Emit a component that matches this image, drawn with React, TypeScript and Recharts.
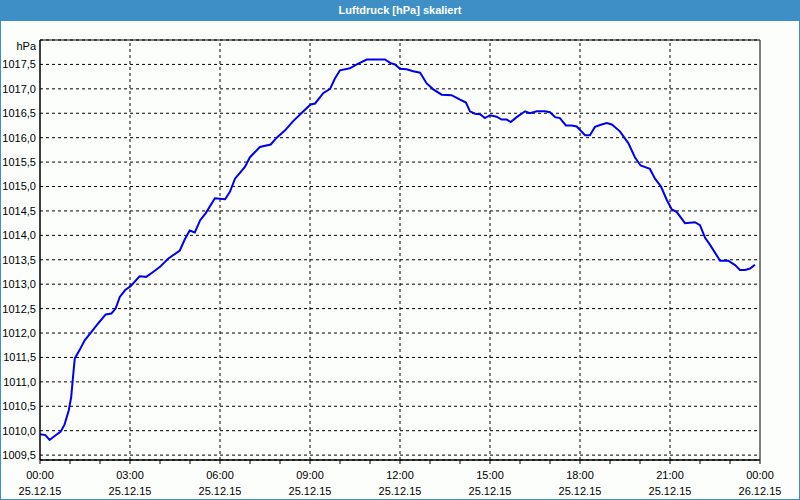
import React from 'react';
import { LineChart, Line, XAxis, YAxis, CartesianGrid, ReferenceLine, ReferenceArea } from 'recharts';

const hours: number[] = [
  0.0, 0.18, 0.32, 0.49, 0.69, 0.82, 0.96, 1.04, 1.1, 1.16, 1.32, 1.49, 1.71, 1.93, 2.19, 2.38, 2.52, 2.66, 2.84, 3.02,
  3.32, 3.54, 3.77, 3.99, 4.27, 4.66, 4.82, 4.99, 5.16, 5.34, 5.52, 5.83, 6.17, 6.33, 6.5, 6.83, 7.0, 7.33, 7.69, 7.89,
  8.17, 8.44, 8.78, 9.02, 9.17, 9.44, 9.67, 9.83, 10.0, 10.33, 10.56, 10.89, 11.5, 11.67, 11.83, 12.0, 12.22, 12.44, 12.67, 12.89,
  13.11, 13.39, 13.72, 14.0, 14.2, 14.33, 14.5, 14.67, 14.83, 15.0, 15.22, 15.39, 15.56, 15.69, 15.89, 16.17, 16.33, 16.56, 16.83, 17.0,
  17.17, 17.33, 17.53, 17.72, 17.89, 18.17, 18.33, 18.5, 18.72, 18.89, 19.06, 19.33, 19.61, 19.83, 20.02, 20.33, 20.5, 20.7, 20.89, 21.06,
  21.22, 21.5, 21.83, 22.0, 22.17, 22.33, 22.67, 22.94, 23.17, 23.33, 23.5, 23.67, 23.83,
];

const pressure: number[] = [
  1009.93, 1009.91, 1009.81, 1009.89, 1009.98, 1010.13, 1010.42, 1010.69, 1011.1, 1011.48, 1011.65, 1011.85, 1012.02, 1012.19, 1012.38, 1012.4, 1012.5, 1012.74, 1012.88, 1012.96,
  1013.16, 1013.15, 1013.25, 1013.35, 1013.52, 1013.69, 1013.91, 1014.1, 1014.06, 1014.31, 1014.45, 1014.76, 1014.74, 1014.89, 1015.16, 1015.4, 1015.6, 1015.81, 1015.86, 1016.0,
  1016.15, 1016.34, 1016.54, 1016.68, 1016.7, 1016.91, 1017.0, 1017.21, 1017.38, 1017.42, 1017.5, 1017.6, 1017.6, 1017.53, 1017.5, 1017.41, 1017.4, 1017.36, 1017.33, 1017.11,
  1016.99, 1016.88, 1016.87, 1016.78, 1016.72, 1016.54, 1016.49, 1016.48, 1016.4, 1016.46, 1016.43, 1016.37, 1016.37, 1016.32, 1016.42, 1016.54, 1016.5, 1016.54, 1016.54, 1016.52,
  1016.42, 1016.4, 1016.25, 1016.25, 1016.23, 1016.05, 1016.05, 1016.22, 1016.27, 1016.3, 1016.27, 1016.13, 1015.89, 1015.6, 1015.43, 1015.36, 1015.16, 1015.0, 1014.73, 1014.53,
  1014.48, 1014.25, 1014.27, 1014.21, 1013.95, 1013.81, 1013.48, 1013.48, 1013.39, 1013.29, 1013.29, 1013.32, 1013.4,
];

const hourTicks: number[] = [0, 1, 2, 3, 4, 5, 6, 7, 8, 9, 10, 11, 12, 13, 14, 15, 16, 17, 18, 19, 20, 21, 22, 23, 24];
const majorHours: number[] = [0, 3, 6, 9, 12, 15, 18, 21, 24];
const timeLabels: string[] = ['00:00', '03:00', '06:00', '09:00', '12:00', '15:00', '18:00', '21:00', '00:00'];
const dateLabels: string[] = ['25.12.15', '25.12.15', '25.12.15', '25.12.15', '25.12.15', '25.12.15', '25.12.15', '25.12.15', '26.12.15'];
const yTicks: number[] = [1009.5, 1010, 1010.5, 1011, 1011.5, 1012, 1012.5, 1013, 1013.5, 1014, 1014.5, 1015, 1015.5, 1016, 1016.5, 1017, 1017.5];
const yDomain: [number, number] = [1009.4, 1018.0];
const title = 'Luftdruck [hPa] skaliert';
const unit = 'hPa';

const data = hours.map((h, i) => ({ h, p: pressure[i] }));

const FONT = '"Liberation Sans", Arial, sans-serif';
const BLUE = '#3d8fc6';

const XTick = (props: any) => {
  const { x, y, payload } = props;
  const idx = majorHours.indexOf(payload.value);
  if (idx < 0) return null;
  return (
    <g>
      <text x={x} y={y + 13} textAnchor="middle" fontSize={11} fontFamily={FONT} fill="#000">{timeLabels[idx]}</text>
      <text x={x} y={y + 29} textAnchor="middle" fontSize={11} fontFamily={FONT} fill="#000">{dateLabels[idx]}</text>
    </g>
  );
};

export default function App() {
  return (
    <div style={{ position: 'absolute', left: 0, top: 0, width: 800, height: 500, background: '#fcfefc', boxSizing: 'border-box', overflow: 'hidden' }}>
      <div style={{ position: 'absolute', left: 0, top: 0, width: 800, height: 500, boxSizing: 'border-box', borderLeft: `1px solid ${BLUE}`, borderRight: `1px solid ${BLUE}`, borderBottom: `1px solid ${BLUE}`, pointerEvents: 'none', zIndex: 2 }} />
      <div style={{ position: 'absolute', left: 0, top: 0, width: 800, height: 21, background: BLUE, color: '#fff', fontFamily: FONT, fontWeight: 'bold', fontSize: 11, lineHeight: '21px', textAlign: 'center', zIndex: 3 }}>{title}</div>
      <div style={{ position: 'absolute', left: 0, top: 39, width: 36, textAlign: 'right', fontFamily: FONT, fontSize: 11, lineHeight: '14px', color: '#000', zIndex: 3 }}>{unit}</div>
      <div style={{ position: 'absolute', left: 0, top: 0 }}>
        <LineChart width={800} height={500} data={data} margin={{ top: 40, right: 40, bottom: 0, left: 0 }}>
          <ReferenceArea x1={0} x2={24} y1={yDomain[0]} y2={yDomain[1]} fill="#ffffff" fillOpacity={0} stroke="#000" strokeWidth={1} ifOverflow="visible" />
          <CartesianGrid vertical={false} stroke="#000" strokeDasharray="3 3" />
          {majorHours.slice(1, -1).map((h) => (
            <ReferenceLine key={h} x={h} stroke="#000" strokeDasharray="3 3" />
          ))}
          <XAxis
            dataKey="h"
            type="number"
            domain={[0, 24]}
            ticks={hourTicks}
            interval={0}
            height={40}
            tickSize={4}
            tickLine={{ stroke: '#000' }}
            axisLine={{ stroke: '#000' }}
            tick={<XTick />}
            allowDataOverflow
          />
          <YAxis
            type="number"
            domain={yDomain}
            ticks={yTicks}
            interval={0}
            width={40}
            tickSize={0}
            tickMargin={4}
            tickLine={false}
            axisLine={{ stroke: '#000' }}
            tick={{ fill: '#000', fontSize: 11, fontFamily: FONT }}
            tickFormatter={(v: number) => v.toFixed(1).replace('.', ',')}
            allowDataOverflow
          />
          <Line type="linear" dataKey="p" stroke="#0000ee" strokeWidth={2} dot={false} isAnimationActive={false} />
        </LineChart>
      </div>
    </div>
  );
}
